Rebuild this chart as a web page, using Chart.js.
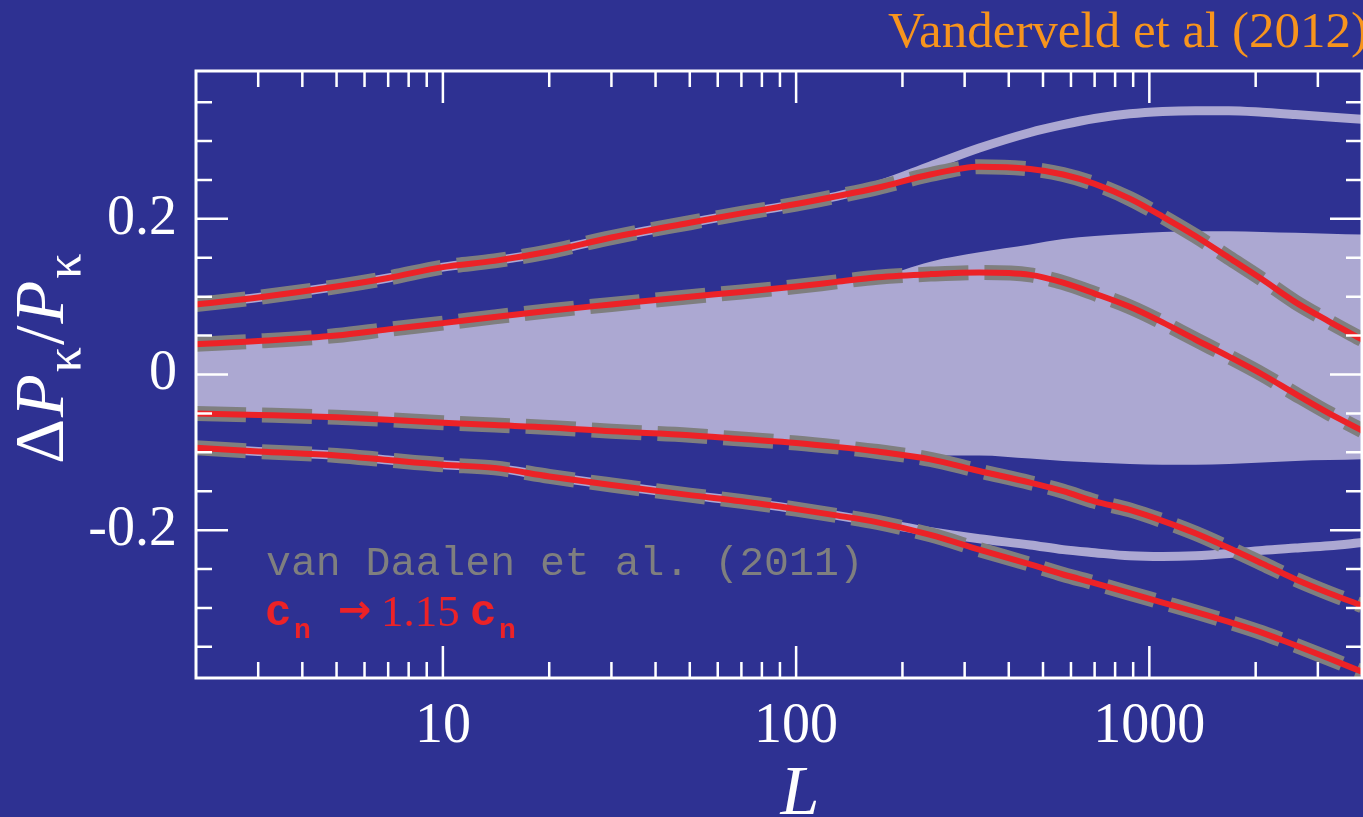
<!DOCTYPE html>
<html>
<head>
<meta charset="utf-8">
<script src="https://cdn.jsdelivr.net/npm/chart.js@4.4.1/dist/chart.umd.min.js"></script>
<style>
  html, body { margin: 0; padding: 0; background: #2e3192; overflow: hidden; }
  canvas { display: block; }
</style>
</head>
<body>
<canvas id="myChart" width="1363" height="817"></canvas>
<script>
// multipole L grid
var ells = [2, 3, 5, 7, 10, 14, 20, 30, 50, 70, 100, 130, 170, 240, 330, 460, 570, 700, 880, 1090, 1350, 1680, 2090, 2590, 3230, 4000];

// four curves (van Daalen et al. dashed / c_n -> 1.15 c_n solid)
var curveA = [0.090, 0.099, 0.113, 0.124, 0.138, 0.146, 0.158, 0.176, 0.195, 0.207, 0.219, 0.229, 0.240, 0.257, 0.267, 0.264, 0.257, 0.245, 0.226, 0.203, 0.178, 0.150, 0.122, 0.093, 0.068, 0.045];
var curveB = [0.039, 0.043, 0.050, 0.058, 0.066, 0.074, 0.082, 0.090, 0.100, 0.106, 0.113, 0.119, 0.125, 0.129, 0.131, 0.128, 0.118, 0.104, 0.087, 0.067, 0.045, 0.023, 0.000, -0.025, -0.050, -0.072];
var curveC = [-0.050, -0.052, -0.055, -0.058, -0.062, -0.065, -0.068, -0.073, -0.078, -0.083, -0.088, -0.093, -0.099, -0.109, -0.124, -0.139, -0.150, -0.163, -0.174, -0.188, -0.204, -0.223, -0.243, -0.263, -0.281, -0.297];
var curveD = [-0.094, -0.099, -0.104, -0.110, -0.116, -0.120, -0.131, -0.142, -0.155, -0.163, -0.173, -0.181, -0.190, -0.206, -0.225, -0.244, -0.257, -0.268, -0.281, -0.293, -0.305, -0.318, -0.332, -0.348, -0.365, -0.382];

// pale envelope lines
var envUpper = [0.090, 0.099, 0.113, 0.124, 0.138, 0.146, 0.158, 0.176, 0.195, 0.207, 0.219, 0.229, 0.243, 0.268, 0.291, 0.311, 0.321, 0.329, 0.335, 0.338, 0.339, 0.339, 0.337, 0.334, 0.331, 0.328];
var envLower = [-0.094, -0.099, -0.104, -0.110, -0.116, -0.120, -0.131, -0.142, -0.155, -0.163, -0.173, -0.181, -0.190, -0.202, -0.211, -0.219, -0.225, -0.229, -0.233, -0.234, -0.233, -0.230, -0.226, -0.223, -0.220, -0.216];

// shaded band
var bandTop = [0.039, 0.043, 0.050, 0.058, 0.066, 0.074, 0.082, 0.090, 0.100, 0.106, 0.113, 0.119, 0.125, 0.145, 0.157, 0.167, 0.174, 0.178, 0.181, 0.183, 0.184, 0.184, 0.183, 0.182, 0.181, 0.180];
var bandBottom = [-0.050, -0.052, -0.055, -0.058, -0.062, -0.065, -0.068, -0.073, -0.078, -0.083, -0.088, -0.093, -0.099, -0.104, -0.104, -0.108, -0.111, -0.113, -0.115, -0.116, -0.116, -0.115, -0.113, -0.111, -0.110, -0.109];

// ticks
var xLabelTicks = [10, 100, 1000];
var xMinorTicks = [3, 4, 5, 6, 7, 8, 9, 20, 30, 40, 50, 60, 70, 80, 90, 200, 300, 400, 500, 600, 700, 800, 900, 2000, 3000];
var yLabelTicks = [-0.2, 0, 0.2];
var yMinorTicks = [-0.35, -0.3, -0.25, -0.15, -0.1, -0.05, 0.05, 0.1, 0.15, 0.25, 0.3, 0.35];

var BG = '#2e3192';
var PALE = '#aca8d2';
var GREY = '#7f7f7f';
var RED = '#ec2227';

function pts(arr) {
    return ells.map(function (l, i) { return { x: l, y: arr[i] }; });
}

function line(arr, color, width, order, dash) {
    return {
        data: pts(arr),
        borderColor: color,
        borderWidth: width,
        borderDash: dash || [],
        borderCapStyle: 'butt',
        fill: false,
        order: order,
        clip: 0
    };
}

var frameAndText = {
    id: 'frameAndText',
    beforeDraw: function (chart) {
        var c = chart.ctx;
        c.save();
        c.fillStyle = BG;
        c.fillRect(0, 0, chart.width, chart.height);
        c.restore();
    },
    afterDraw: function (chart) {
        var c = chart.ctx, a = chart.chartArea;
        var xs = chart.scales.x, ys = chart.scales.y;
        c.save();
        c.strokeStyle = '#ffffff';
        c.lineWidth = 3;
        c.strokeRect(a.left, a.top, a.right - a.left, a.bottom - a.top);

        c.lineWidth = 2.5;
        c.beginPath();
        xLabelTicks.forEach(function (v) {
            var px = xs.getPixelForValue(v);
            c.moveTo(px, a.bottom); c.lineTo(px, a.bottom - 32);
            c.moveTo(px, a.top); c.lineTo(px, a.top + 32);
        });
        xMinorTicks.forEach(function (v) {
            var px = xs.getPixelForValue(v);
            c.moveTo(px, a.bottom); c.lineTo(px, a.bottom - 16);
            c.moveTo(px, a.top); c.lineTo(px, a.top + 16);
        });
        yLabelTicks.forEach(function (v) {
            var py = ys.getPixelForValue(v);
            c.moveTo(a.left, py); c.lineTo(a.left + 32, py);
            c.moveTo(a.right, py); c.lineTo(a.right - 32, py);
        });
        yMinorTicks.forEach(function (v) {
            var py = ys.getPixelForValue(v);
            c.moveTo(a.left, py); c.lineTo(a.left + 16, py);
            c.moveTo(a.right, py); c.lineTo(a.right - 16, py);
        });
        c.stroke();

        // top right credit
        c.fillStyle = '#f7941d';
        c.font = '51px "Liberation Serif"';
        c.textAlign = 'right';
        c.textBaseline = 'alphabetic';
        c.fillText('Vanderveld et al (2012)', 1368, 47);

        // x title
        c.fillStyle = '#ffffff';
        c.textAlign = 'center';
        c.font = 'italic 70px "Liberation Serif"';
        c.fillText('L', 800, 814);

        // y title, rotated
        c.save();
        c.translate(63, 464);
        c.rotate(-Math.PI / 2);
        c.textAlign = 'left';
        var x = 0;
        var parts = [
            ['Δ', '70px "Liberation Serif"', 0],
            ['P', 'italic 70px "Liberation Serif"', 0],
            ['κ', '50px "Liberation Serif"', 17],
            ['/', '70px "Liberation Serif"', 0],
            ['P', 'italic 70px "Liberation Serif"', 0],
            ['κ', '50px "Liberation Serif"', 17]
        ];
        parts.forEach(function (p) {
            c.font = p[1];
            c.fillText(p[0], x, p[2]);
            x += c.measureText(p[0]).width + 2;
        });
        c.restore();

        // in-plot legend
        c.textAlign = 'left';
        c.fillStyle = GREY;
        c.font = '41.5px "Liberation Mono"';
        c.fillText('van Daalen et al. (2011)', 266, 575);

        c.fillStyle = RED;
        c.font = 'bold 44px "Liberation Mono"';
        c.fillText('c', 265, 625);
        c.font = 'bold 28px "Liberation Mono"';
        c.fillText('n', 294, 638);
        c.font = 'bold 40px "DejaVu Sans"';
        c.fillText('→', 338, 623);
        c.font = '45px "Liberation Serif"';
        c.fillText('1.15', 381, 626);
        c.font = 'bold 44px "Liberation Mono"';
        c.fillText('c', 470, 625);
        c.font = 'bold 28px "Liberation Mono"';
        c.fillText('n', 499, 638);
        c.restore();
    }
};

var ctx = document.getElementById('myChart');
var myChart = new Chart(ctx, {
    type: 'line',
    data: {
        datasets: [
            {
                data: pts(bandTop),
                borderWidth: 0,
                backgroundColor: PALE,
                fill: '+1',
                order: 10,
                clip: 0
            },
            {
                data: pts(bandBottom),
                borderWidth: 0,
                fill: false,
                order: 10,
                clip: 0
            },
            line(envUpper, PALE, 9, 8),
            line(envLower, PALE, 9, 8),
            line(curveA, GREY, 15, 5, [50, 16]),
            line(curveB, GREY, 15, 5, [50, 16]),
            line(curveC, GREY, 15, 5, [50, 16]),
            line(curveD, GREY, 15, 5, [50, 16]),
            line(curveA, RED, 6, 1),
            line(curveB, RED, 6, 1),
            line(curveC, RED, 6, 1),
            line(curveD, RED, 6, 1)
        ]
    },
    options: {
        responsive: false,
        animation: false,
        devicePixelRatio: 1,
        layout: { padding: { top: 71, right: 1, left: 0, bottom: 0 } },
        elements: {
            point: { radius: 0 },
            line: { cubicInterpolationMode: 'monotone' }
        },
        plugins: {
            legend: { display: false },
            tooltip: { enabled: false }
        },
        scales: {
            x: {
                type: 'logarithmic',
                min: 2,
                max: 4000,
                grid: { display: false, drawTicks: false },
                border: { display: false },
                afterBuildTicks: function (s) {
                    s.ticks = xLabelTicks.map(function (v) { return { value: v }; });
                },
                afterFit: function (s) { s.height = 139; },
                ticks: {
                    color: '#ffffff',
                    padding: 16,
                    maxRotation: 0,
                    autoSkip: false,
                    font: { family: 'Liberation Serif', size: 56, lineHeight: 1.2 },
                    callback: function (v) { return String(v); }
                }
            },
            y: {
                min: -0.39,
                max: 0.39,
                grid: { display: false, drawTicks: false },
                border: { display: false },
                afterBuildTicks: function (s) {
                    s.ticks = yLabelTicks.map(function (v) { return { value: v }; });
                },
                afterFit: function (s) { s.width = 196; },
                ticks: {
                    color: '#ffffff',
                    padding: 19,
                    autoSkip: false,
                    font: { family: 'Liberation Serif', size: 56, lineHeight: 1.2 },
                    callback: function (v) { return v === 0 ? '0' : v.toFixed(1); }
                }
            }
        }
    },
    plugins: [frameAndText]
});
</script>
</body>
</html>
